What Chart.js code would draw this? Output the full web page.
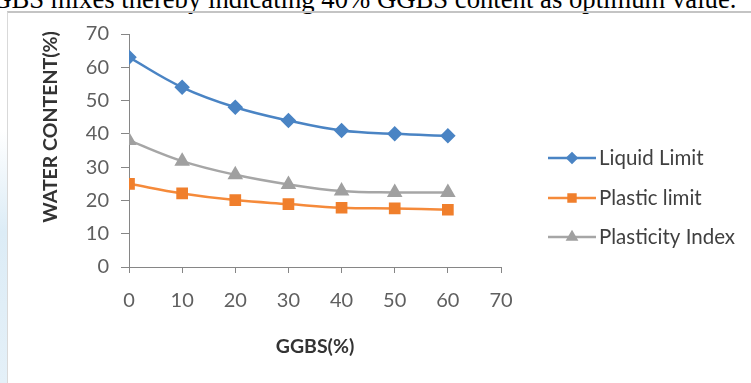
<!DOCTYPE html>
<html>
<head>
<meta charset="utf-8">
<script src="https://cdn.jsdelivr.net/npm/chart.js@4.4.1/dist/chart.umd.min.js"></script>
<style>
  html, body { margin: 0; padding: 0; background: #fff; overflow: hidden; }
  #page { position: relative; width: 751px; height: 383px; }
  #caption {
    position: absolute; left: -27px; top: -14px; white-space: nowrap;
    font-family: "Liberation Serif", "DejaVu Serif", serif; font-size: 26.7px; line-height: 26.7px; color: #000;
  }
  #frame {
    position: absolute; left: 7px; top: 11px; width: 800px; height: 400px;
    border-left: 1px solid #d9d9d9; border-top: 2px solid #c4c4c4;
  }
  #strip {
    position: absolute; left: 0; top: 130px; width: 7px; height: 253px;
    background: linear-gradient(to bottom, rgba(220,236,246,0), #dcecf6 40%, #e4f0f8);
  }
  #chartBox { position: absolute; left: 0; top: 0; width: 751px; height: 383px; }
</style>
</head>
<body>
<div id="page">
  <div id="caption">GGBS mixes thereby indicating 40% GGBS content as optimum value.</div>
  <div id="strip"></div>
  <div id="frame"></div>
  <div id="chartBox"><canvas id="soilChart" width="751" height="383"></canvas></div>
</div>
<script>
// GGBS (%) on x axis
const ggbs = [0, 10, 20, 30, 40, 50, 60];
// water content (%)
const liquidLimit = [63, 54, 48, 44, 41, 40, 39.4];
const plasticLimit = [25, 22.1, 20.1, 18.9, 17.8, 17.6, 17.2];
const plasticityIndex = [38, 31.8, 27.7, 24.8, 22.8, 22.4, 22.4];
const seriesNames = ["Liquid Limit", "Plastic limit", "Plasticity Index"];
const axisTicks = [0, 10, 20, 30, 40, 50, 60, 70];

const FONT = "Lato, 'Open Sans', sans-serif";

function toPoints(values) {
    return ggbs.map((g, i) => ({ x: g, y: values[i] }));
}

// legend + y title drawn like the Excel one (line with marker in the middle)
const excelLegend = {
    id: 'excelLegend',
    afterDraw(chart) {
        const ctx = chart.ctx;
        const rows = [158, 198, 237];
        ctx.save();
        chart.data.datasets.forEach((ds, i) => {
            const y = rows[i];
            ctx.strokeStyle = ds.borderColor;
            ctx.lineWidth = 2.5;
            ctx.beginPath();
            ctx.moveTo(548, y);
            ctx.lineTo(596, y);
            ctx.stroke();
            ctx.fillStyle = ds.pointBackgroundColor;
            ctx.strokeStyle = ds.pointBackgroundColor;
            Chart.helpers.drawPoint(ctx, {
                pointStyle: ds.pointStyle, radius: ds.pointRadius * 0.75, rotation: 0, borderWidth: 1
            }, 572, y);
            ctx.fillStyle = '#404040';
            ctx.font = "20.5px " + FONT;
            ctx.textBaseline = 'middle';
            ctx.textAlign = 'left';
            ctx.fillText(ds.label, 599, y);
        });
        // y axis title
        ctx.translate(51, 127);
        ctx.rotate(-Math.PI / 2);
        ctx.font = "bold 19.5px " + FONT;
        ctx.fillStyle = '#333333';
        ctx.textAlign = 'center';
        ctx.textBaseline = 'middle';
        ctx.fillText("WATER CONTENT(%)", 0, 0);
        ctx.restore();
    }
};

const ctx = document.getElementById("soilChart").getContext("2d");
const chart = new Chart(ctx, {
    type: "line",
    data: {
        datasets: [
            {
                label: seriesNames[0],
                data: toPoints(liquidLimit),
                borderColor: "#4a84c4",
                pointBackgroundColor: "#4a84c4",
                pointBorderColor: "#4a84c4",
                pointStyle: "rectRot",
                pointRadius: 6,
                borderWidth: 2.5,
                tension: 0.4,
            },
            {
                label: seriesNames[1],
                data: toPoints(plasticLimit),
                borderColor: "#f58a3a",
                pointBackgroundColor: "#f07f2c",
                pointBorderColor: "#f07f2c",
                pointStyle: "rect",
                pointRadius: 6.5,
                borderWidth: 2.5,
                tension: 0.4,
            },
            {
                label: seriesNames[2],
                data: toPoints(plasticityIndex),
                borderColor: "#a6a6a6",
                pointBackgroundColor: "#a0a0a0",
                pointBorderColor: "#a0a0a0",
                pointStyle: "triangle",
                pointRadius: 6.5,
                borderWidth: 2.5,
                tension: 0.4,
            },
        ],
    },
    options: {
        responsive: false,
        animation: false,
        layout: { padding: { top: 34, right: 250, left: 0, bottom: 0 } },
        plugins: { legend: { display: false }, tooltip: { enabled: false } },
        scales: {
            x: {
                type: 'linear',
                min: 0, max: 70,
                afterBuildTicks: (scale) => { scale.ticks = axisTicks.map(v => ({ value: v })); },
                afterFit: (scale) => { scale.height = 116; },
                grid: { drawOnChartArea: false, tickLength: 6, color: '#868686' },
                border: { color: '#868686', width: 1 },
                ticks: { color: '#5f5f5f', font: { family: FONT, size: 20 }, padding: 16 },
                title: {
                    display: true, text: "GGBS(%)", color: '#333333',
                    font: { family: FONT, size: 19.5, weight: 'bold' },
                    padding: { bottom: 25 }
                }
            },
            y: {
                min: 0, max: 70,
                afterBuildTicks: (scale) => { scale.ticks = axisTicks.map(v => ({ value: v })); },
                afterFit: (scale) => { scale.width = 129; },
                grid: { drawOnChartArea: false, tickLength: 8, color: '#868686' },
                border: { color: '#868686', width: 1 },
                ticks: { color: '#5f5f5f', font: { family: FONT, size: 20 }, padding: 12 },
            }
        },
    },
    plugins: [excelLegend],
});
</script>
</body>
</html>
